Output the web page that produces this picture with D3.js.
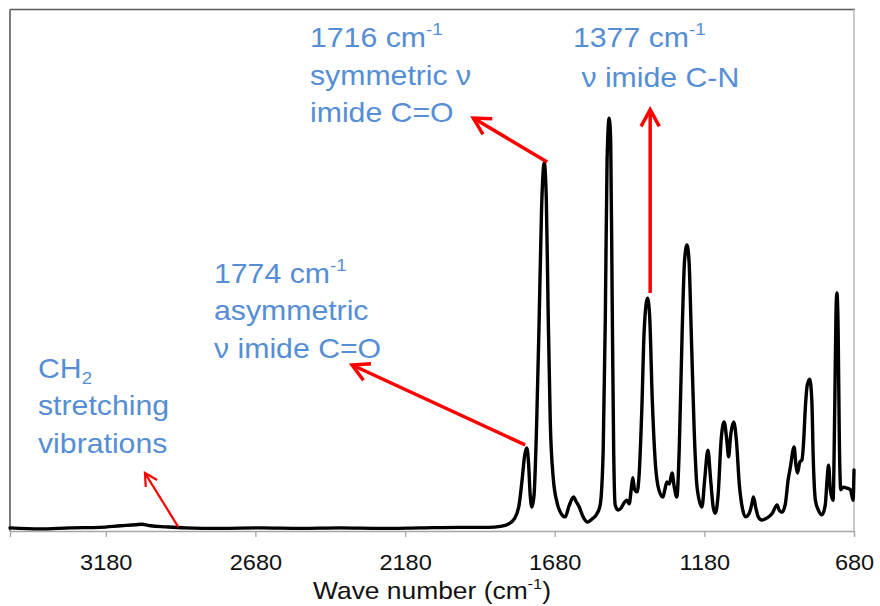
<!DOCTYPE html>
<html>
<head>
<meta charset="utf-8">
<script src="https://cdn.jsdelivr.net/npm/d3@7"></script>
<style>
  html, body { margin: 0; padding: 0; background: #ffffff; }
  svg { display: block; }
</style>
</head>
<body>
<svg id="chart" width="880" height="606"></svg>
<script>
// ---------------- data ----------------
const wavenumbers = [
  3500, 3400, 3300, 3200, 3130, 3080, 3060, 3030, 2980, 2915,
  2800, 2660, 2530, 2400, 2260, 2130, 2000, 1900, 1862, 1836,
  1815, 1799, 1789, 1780, 1773, 1767, 1762, 1756, 1749, 1740,
  1732, 1724, 1715, 1708, 1702, 1695, 1685, 1672, 1658, 1645,
  1632, 1617, 1608, 1598, 1585, 1570, 1555, 1538, 1528, 1518,
  1511, 1505, 1498, 1493, 1488, 1483, 1478, 1468, 1458, 1448,
  1439, 1431, 1424, 1419, 1413, 1405, 1398, 1389, 1381, 1370,
  1363, 1354, 1344, 1332, 1318, 1312, 1305, 1297, 1288, 1281,
  1272, 1264, 1254, 1246, 1238, 1231, 1224, 1214, 1204, 1188,
  1179, 1168, 1159, 1150, 1144, 1134, 1124, 1114, 1105, 1099,
  1092, 1082, 1073, 1063, 1053, 1043, 1030, 1022, 1016, 1008,
  1000, 988, 970, 953, 937, 930, 921, 910, 900, 893,
  880, 874, 869, 861, 854, 848, 843, 836, 828, 821,
  816, 809, 799, 787, 776, 770, 765, 759, 750, 744,
  740, 737, 733, 729, 724, 716, 703, 692, 683, 680
];
const absorbance = [
  0.006, 0.004, 0.006, 0.007, 0.010, 0.012, 0.013, 0.010, 0.008, 0.006,
  0.005, 0.006, 0.005, 0.006, 0.005, 0.006, 0.007, 0.007, 0.009, 0.013,
  0.023, 0.050, 0.098, 0.146, 0.159, 0.126, 0.069, 0.046, 0.069, 0.213,
  0.404, 0.615, 0.705, 0.634, 0.423, 0.213, 0.102, 0.054, 0.033, 0.027,
  0.048, 0.065, 0.056, 0.046, 0.027, 0.017, 0.023, 0.034, 0.050, 0.155,
  0.404, 0.711, 0.791, 0.749, 0.443, 0.155, 0.050, 0.040, 0.044, 0.054,
  0.059, 0.052, 0.082, 0.102, 0.079, 0.075, 0.107, 0.232, 0.385, 0.446,
  0.414, 0.251, 0.132, 0.079, 0.065, 0.079, 0.094, 0.090, 0.111, 0.086,
  0.065, 0.155, 0.385, 0.519, 0.548, 0.515, 0.385, 0.193, 0.082, 0.046,
  0.098, 0.155, 0.098, 0.044, 0.034, 0.069, 0.174, 0.209, 0.174, 0.142,
  0.184, 0.209, 0.174, 0.088, 0.044, 0.027, 0.034, 0.050, 0.065, 0.044,
  0.027, 0.021, 0.025, 0.034, 0.050, 0.040, 0.036, 0.050, 0.098, 0.121,
  0.161, 0.126, 0.111, 0.132, 0.136, 0.174, 0.232, 0.280, 0.291, 0.251,
  0.136, 0.059, 0.040, 0.031, 0.050, 0.098, 0.126, 0.079, 0.059, 0.251,
  0.423, 0.456, 0.385, 0.174, 0.079, 0.084, 0.082, 0.079, 0.059, 0.117
];
const tickValues = [3180, 2680, 2180, 1680, 1180, 680];
const xDomain = [3500, 680];
const yDomain = [0, 1];

// arrows: [wavenumber, intensity] for tail and head
const arrowTails = [[2938, 0.008], [1779, 0.165], [1705, 0.707], [1361, 0.456]];
const arrowHeads = [[3049, 0.111], [2357, 0.318], [1952, 0.791], [1361, 0.807]];
const arrowWidths = [2.2, 3.5, 3.5, 3.5];
const arrowHeadLen = [14, 19, 19, 19];

// annotation texts (segments: [text, kind])
const annotationTexts = [
  [[["CH", ""], ["2", "sub"]], [["stretching", ""]], [["vibrations", ""]]],
  [[["1774 cm", ""], ["-1", "sup"]], [["asymmetric", ""]], [["ν imide C=O", ""]]],
  [[["1716 cm", ""], ["-1", "sup"]], [["symmetric ν", ""]], [["imide C=O", ""]]],
  [[["1377 cm", ""], ["-1", "sup"]], [[" ν imide C-N", ""]]]
];
const xTitle = [["Wave number (cm", ""], ["-1", "sup"], [")", ""]];

// ---------------- layout ----------------
const plot = { left: 10, right: 854, top: 9, bottom: 531 };
const svg = d3.select("#chart");
const x = d3.scaleLinear().domain(xDomain).range([plot.left, plot.right]);
const y = d3.scaleLinear().domain(yDomain).range([plot.bottom, plot.top]);

const FONT = "'Liberation Sans', Arial, sans-serif";

// frame
svg.append("line").attr("x1", plot.left).attr("x2", plot.right + 1).attr("y1", 9.5).attr("y2", 9.5)
  .attr("stroke", "#5a5a5a").attr("stroke-width", 1.6);
svg.append("line").attr("x1", plot.left).attr("x2", plot.left).attr("y1", 9.5).attr("y2", plot.bottom)
  .attr("stroke", "#5a5a5a").attr("stroke-width", 1.6);
svg.append("line").attr("x1", plot.right).attr("x2", plot.right).attr("y1", 9.5).attr("y2", plot.bottom)
  .attr("stroke", "#c4c4c4").attr("stroke-width", 1.8);

// x axis
const axis = d3.axisBottom(x).tickValues(tickValues).tickSize(6).tickPadding(8).tickFormat(d3.format("d"));
const gx = svg.append("g").attr("transform", `translate(0,${plot.bottom})`).call(axis);
gx.select(".domain").attr("stroke", "#a6a6a6").attr("stroke-width", 1.3);
gx.selectAll(".tick line").attr("stroke", "#a6a6a6").attr("stroke-width", 1.3);
gx.selectAll(".tick text")
  .attr("font-family", FONT).attr("font-size", 22).attr("fill", "#111")
  .attr("y", 0).attr("dy", 0)
  .attr("transform", "translate(0,39) scale(1.07,1)");

// spectrum
const pts = wavenumbers.map((w, i) => [w, absorbance[i]]);
const line = d3.line().x(d => x(d[0])).y(d => y(d[1])).curve(d3.curveMonotoneX);
svg.append("path").datum(pts).attr("d", line)
  .attr("fill", "none").attr("stroke", "#000").attr("stroke-width", 3.4)
  .attr("stroke-linejoin", "round").attr("stroke-linecap", "round");

// arrows
arrowTails.forEach((t, i) => {
  const h = arrowHeads[i];
  const x0 = x(t[0]), y0 = y(t[1]), x1 = x(h[0]), y1 = y(h[1]);
  const g = svg.append("g").attr("stroke", "#ff0000").attr("stroke-width", arrowWidths[i])
    .attr("fill", "none").attr("stroke-linecap", "butt");
  g.append("line").attr("x1", x0).attr("y1", y0).attr("x2", x1).attr("y2", y1);
  const ang = Math.atan2(y0 - y1, x0 - x1);
  const spread = 0.5, L = arrowHeadLen[i];
  const p1 = [x1 + L * Math.cos(ang + spread), y1 + L * Math.sin(ang + spread)];
  const p2 = [x1 + L * Math.cos(ang - spread), y1 + L * Math.sin(ang - spread)];
  g.append("path").attr("d", `M${p1[0]},${p1[1]}L${x1},${y1}L${p2[0]},${p2[1]}`)
    .attr("stroke-linejoin", "miter");
});

// rich text helper
function richText(parent, px, py, segs, size, color, sx) {
  const t = parent.append("text")
    .attr("transform", `translate(${px},${py}) scale(${sx},1)`)
    .attr("font-family", FONT).attr("font-size", size).attr("fill", color);
  let shift = 0;
  segs.forEach(([txt, kind]) => {
    const ts = t.append("tspan").text(txt).attr("xml:space", "preserve");
    let target = 0;
    if (kind === "sup") { ts.attr("font-size", size * 0.62); target = -size * 0.42; }
    else if (kind === "sub") { ts.attr("font-size", size * 0.62); target = size * 0.2; }
    ts.attr("dy", target - shift);
    shift = target;
  });
  t.style("white-space", "pre");
  return t;
}

// annotations layout (pixels)
const annPos = [
  { x: 38, y: [378, 415, 453] },
  { x: 214, y: [283, 320, 358] },
  { x: 310, y: [47, 85, 122] },
  { x: 573, y: [47, 87] }
];
annotationTexts.forEach((lines, i) => {
  lines.forEach((segs, j) => {
    richText(svg, annPos[i].x, annPos[i].y[j], segs, 28, "#558ed5", 1.08);
  });
});

// axis title
const tt = richText(svg, 0, 0, xTitle, 24, "#111", 1.1);
const bw = tt.node().getBBox().width * 1.1;
tt.attr("transform", `translate(${432 - bw / 2},599) scale(1.1,1)`);
</script>
</body>
</html>
